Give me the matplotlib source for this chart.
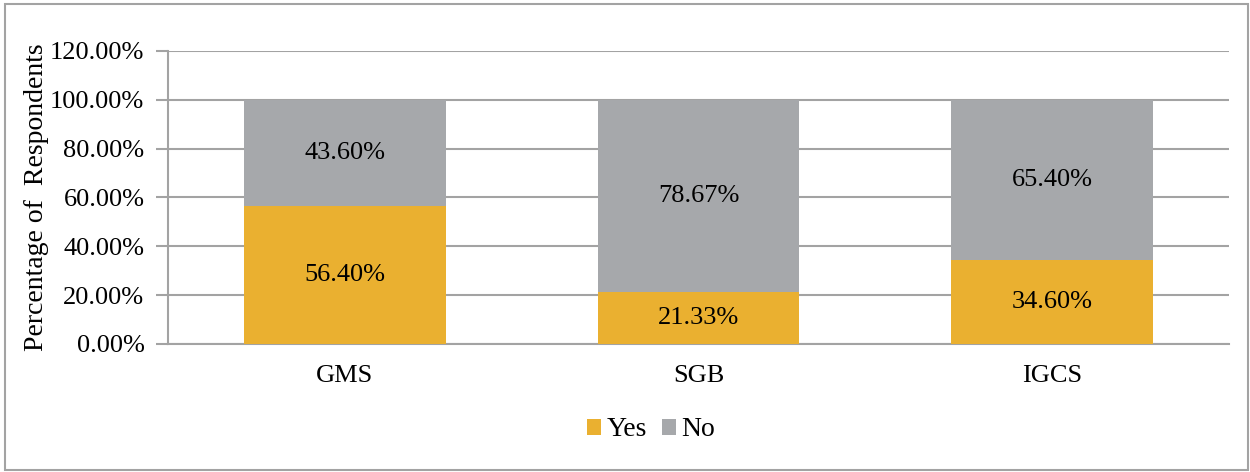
import matplotlib
matplotlib.use('Agg')
import matplotlib.pyplot as plt
from matplotlib.patches import Rectangle
import numpy as np

# 数据
categories = ['GMS', 'SGB', 'IGCS']
yes_vals = [56.40, 21.33, 34.60]
no_vals = [43.60, 78.67, 65.40]
y_ticks = [0, 20, 40, 60, 80, 100, 120]

plt.rcParams['font.family'] = ['Liberation Serif', 'DejaVu Serif']

yes_color = '#EAB030'
no_color = '#A6A8AB'
grid_color = '#A3A3A3'

fig = plt.figure(figsize=(12.5, 4.72), dpi=100)
ax = fig.add_axes([0.1344, 0.2712, 0.8488, 0.6208])

x = np.arange(len(categories))
yes = np.array(yes_vals)
no = np.array(no_vals)
bars_yes = ax.bar(x, yes, width=0.57, color=yes_color, label='Yes', zorder=3)
bars_no = ax.bar(x, no, width=0.57, bottom=yes, color=no_color, label='No', zorder=3)

# 数据标签
for i in range(len(categories)):
    ax.text(x[i], yes[i] / 2, f'{yes[i]:.2f}%', ha='center', va='center', fontsize=19, zorder=4)
    ax.text(x[i], yes[i] + no[i] / 2, f'{no[i]:.2f}%', ha='center', va='center', fontsize=19, zorder=4)

ax.set_xlim(-0.5, 2.5)
ax.set_ylim(0, 120)
ax.set_yticks(y_ticks)
ax.set_yticklabels([f'{t:.2f}%' for t in y_ticks], fontsize=19)
ax.set_xticks(x)
ax.set_xticklabels(categories, fontsize=19)
ax.tick_params(axis='x', length=0, pad=15)
ax.tick_params(axis='y', length=9, width=1.5, color=grid_color, pad=8)
ax.yaxis.grid(True, color=grid_color, linewidth=1.5, zorder=0)
for s in ['top', 'right']:
    ax.spines[s].set_visible(False)
for s in ['left', 'bottom']:
    ax.spines[s].set_color(grid_color)
    ax.spines[s].set_linewidth(1.5)
ax.set_ylabel('Percentage of  Respondents', fontsize=20)
ax.yaxis.set_label_coords(-0.112, 0.5)

fig.legend(handles=[bars_yes, bars_no], labels=['Yes', 'No'], loc='center',
           bbox_to_anchor=(0.521, 0.089), ncol=2, frameon=False, fontsize=20,
           handlelength=0.5, handleheight=0.5, handletextpad=0.2, columnspacing=0.55)

# 外框
fig.patches.append(Rectangle((0.004, 0.004), 0.994, 0.988, transform=fig.transFigure,
                             fill=False, edgecolor=grid_color, linewidth=1.5))

plt.savefig('out.png', dpi=100)
plt.close()
